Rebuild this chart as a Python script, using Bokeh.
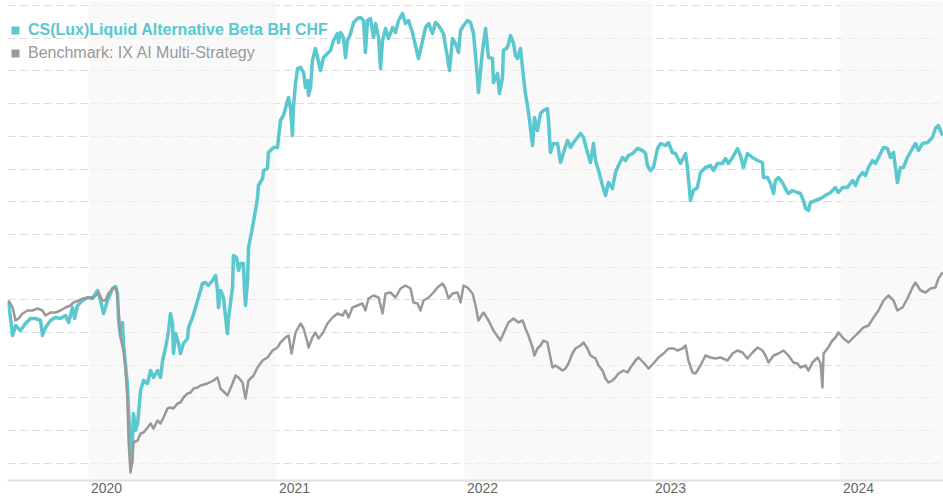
from bokeh.plotting import figure
from bokeh.models import (Range1d, FixedTicker, CustomJSTickFormatter, BoxAnnotation,
                          Legend, LegendItem, Grid)
from bokeh.embed import file_html
from bokeh.resources import INLINE

# ---------------- data (decimal years, indexed value) ----------------
fund_name = "CS(Lux)Liquid Alternative Beta BH CHF"
bench_name = "Benchmark: IX AI Multi-Strategy"

t_fund = [2019.574, 2019.585, 2019.596, 2019.612, 2019.622, 2019.638, 2019.665, 2019.691, 2019.718, 2019.745,
          2019.755, 2019.771, 2019.798, 2019.824, 2019.851, 2019.878, 2019.894, 2019.915, 2019.926, 2019.941,
          2019.968, 2019.995, 2020.021, 2020.048, 2020.064, 2020.080, 2020.101, 2020.128, 2020.144, 2020.154,
          2020.160, 2020.170, 2020.181, 2020.186, 2020.197, 2020.207, 2020.218, 2020.229, 2020.239, 2020.250,
          2020.261, 2020.266, 2020.277, 2020.293, 2020.314, 2020.330, 2020.346, 2020.367, 2020.383, 2020.394,
          2020.410, 2020.420, 2020.426, 2020.436, 2020.447, 2020.452, 2020.463, 2020.479, 2020.489, 2020.505,
          2020.527, 2020.532, 2020.553, 2020.569, 2020.585, 2020.606, 2020.622, 2020.638, 2020.660, 2020.676,
          2020.686, 2020.691, 2020.702, 2020.718, 2020.729, 2020.739, 2020.745, 2020.766, 2020.771, 2020.787,
          2020.798, 2020.809, 2020.824, 2020.830, 2020.835, 2020.846, 2020.851, 2020.872, 2020.888, 2020.899,
          2020.904, 2020.926, 2020.931, 2020.952, 2020.957, 2020.968, 2020.984, 2021.005, 2021.021, 2021.037,
          2021.059, 2021.064, 2021.074, 2021.085, 2021.090, 2021.101, 2021.112, 2021.128, 2021.144, 2021.154,
          2021.165, 2021.170, 2021.181, 2021.191, 2021.207, 2021.218, 2021.234, 2021.250, 2021.271, 2021.287,
          2021.303, 2021.324, 2021.330, 2021.340, 2021.356, 2021.367, 2021.378, 2021.394, 2021.410, 2021.431,
          2021.447, 2021.463, 2021.473, 2021.484, 2021.500, 2021.516, 2021.527, 2021.543, 2021.553, 2021.564,
          2021.580, 2021.596, 2021.617, 2021.633, 2021.649, 2021.670, 2021.686, 2021.702, 2021.723, 2021.739,
          2021.755, 2021.777, 2021.793, 2021.809, 2021.830, 2021.846, 2021.862, 2021.888, 2021.910, 2021.920,
          2021.936, 2021.952, 2021.968, 2021.979, 2021.995, 2022.016, 2022.032, 2022.048, 2022.069, 2022.074,
          2022.096, 2022.112, 2022.128, 2022.149, 2022.154, 2022.176, 2022.186, 2022.202, 2022.207, 2022.229,
          2022.245, 2022.261, 2022.271, 2022.282, 2022.298, 2022.314, 2022.324, 2022.335, 2022.346, 2022.362,
          2022.372, 2022.388, 2022.404, 2022.420, 2022.441, 2022.447, 2022.457, 2022.473, 2022.495, 2022.511,
          2022.527, 2022.548, 2022.564, 2022.580, 2022.601, 2022.617, 2022.633, 2022.654, 2022.670, 2022.686,
          2022.697, 2022.713, 2022.734, 2022.750, 2022.766, 2022.787, 2022.803, 2022.819, 2022.840, 2022.856,
          2022.872, 2022.894, 2022.920, 2022.947, 2022.963, 2022.973, 2022.989, 2023.005, 2023.027, 2023.043,
          2023.069, 2023.085, 2023.106, 2023.122, 2023.149, 2023.176, 2023.186, 2023.202, 2023.218, 2023.239,
          2023.255, 2023.282, 2023.309, 2023.324, 2023.346, 2023.372, 2023.388, 2023.404, 2023.426, 2023.452,
          2023.468, 2023.484, 2023.505, 2023.532, 2023.559, 2023.585, 2023.590, 2023.612, 2023.628, 2023.644,
          2023.654, 2023.670, 2023.691, 2023.707, 2023.723, 2023.745, 2023.771, 2023.787, 2023.803, 2023.814,
          2023.830, 2023.840, 2023.867, 2023.894, 2023.920, 2023.947, 2023.973, 2023.989, 2024.011, 2024.037,
          2024.064, 2024.080, 2024.096, 2024.117, 2024.133, 2024.149, 2024.170, 2024.186, 2024.213, 2024.229,
          2024.250, 2024.266, 2024.282, 2024.303, 2024.319, 2024.335, 2024.356, 2024.383, 2024.399, 2024.415,
          2024.436, 2024.463, 2024.489, 2024.505, 2024.521, 2024.543]
v_fund = [99.9, 98.2, 96.5, 97.5, 97.3, 97.0, 97.7, 98.2, 98.2, 98.0,
          96.5, 97.3, 98.0, 98.3, 98.2, 98.5, 97.8, 99.3, 98.2, 99.5,
          100.0, 100.3, 100.2, 101.0, 100.0, 98.7, 100.0, 101.2, 101.4, 100.7,
          98.0, 96.5, 97.8, 95.7, 93.5, 91.5, 87.0, 83.7, 88.7, 87.0,
          87.7, 88.7, 91.0, 92.0, 91.7, 93.0, 92.3, 93.0, 92.3, 94.0,
          95.3, 96.3, 97.0, 98.7, 97.7, 94.7, 96.7, 95.7, 94.7, 95.7,
          96.2, 97.3, 98.3, 99.3, 100.3, 101.7, 101.8, 101.5, 102.0, 102.5,
          101.0, 99.3, 101.0, 100.3, 98.3, 96.7, 98.3, 101.3, 104.5, 104.3,
          103.0, 103.7, 103.7, 101.0, 99.5, 102.0, 105.3, 107.3, 109.0, 110.3,
          111.5, 112.2, 113.0, 113.2, 114.8, 115.0, 115.3, 115.3, 118.0, 118.5,
          120.0, 120.3, 119.3, 116.5, 119.3, 121.7, 123.2, 123.3, 122.8, 121.3,
          122.0, 120.5, 121.3, 124.0, 125.2, 124.3, 123.0, 124.3, 124.7, 125.0,
          126.0, 126.7, 125.8, 126.8, 126.3, 124.3, 126.0, 126.7, 127.8, 128.2,
          128.3, 128.0, 124.8, 128.0, 128.2, 126.3, 127.7, 126.3, 123.2, 126.0,
          127.2, 126.2, 127.3, 126.8, 128.0, 128.7, 127.7, 128.0, 126.8, 125.5,
          124.2, 126.0, 127.3, 127.7, 126.7, 127.8, 127.5, 126.7, 124.2, 123.0,
          126.2, 125.7, 124.8, 127.0, 127.5, 128.0, 127.8, 126.7, 122.3, 120.8,
          125.0, 127.2, 124.3, 124.2, 121.8, 122.7, 120.7, 122.3, 125.0, 125.3,
          126.5, 125.7, 124.5, 124.2, 125.2, 122.3, 120.7, 119.5, 118.0, 115.5,
          118.3, 117.0, 118.7, 119.0, 119.2, 118.0, 114.8, 115.7, 115.7, 113.8,
          114.8, 116.0, 115.3, 115.8, 116.3, 116.7, 116.3, 114.8, 113.8, 115.7,
          114.0, 113.0, 111.5, 110.5, 111.8, 111.2, 112.8, 113.5, 114.3, 114.0,
          114.5, 114.7, 115.2, 115.0, 114.7, 113.5, 113.0, 113.3, 115.2, 115.7,
          115.5, 115.8, 114.8, 114.7, 113.7, 114.7, 113.3, 110.0, 111.0, 111.3,
          112.8, 113.3, 113.5, 113.0, 113.7, 113.7, 114.2, 113.7, 114.3, 115.2,
          114.5, 113.3, 114.7, 114.3, 114.0, 113.8, 112.3, 112.3, 111.7, 110.7,
          112.0, 112.3, 111.8, 111.2, 110.7, 111.0, 110.8, 110.7, 110.0, 109.2,
          109.0, 109.8, 110.0, 110.2, 110.5, 110.8, 111.3, 110.8, 111.3, 111.3,
          112.0, 111.5, 112.3, 112.8, 112.5, 113.3, 114.0, 113.7, 114.7, 115.3,
          115.2, 114.3, 114.8, 111.8, 113.3, 113.3, 114.3, 115.2, 115.7, 115.0,
          115.7, 115.8, 116.3, 117.2, 117.5, 116.5]

t_bench = [2019.574, 2019.596, 2019.612, 2019.628, 2019.649, 2019.676, 2019.702, 2019.729, 2019.755, 2019.771,
           2019.798, 2019.824, 2019.851, 2019.878, 2019.904, 2019.920, 2019.947, 2019.973, 2020.000, 2020.027,
           2020.053, 2020.074, 2020.090, 2020.106, 2020.133, 2020.149, 2020.160, 2020.170, 2020.186, 2020.197,
           2020.207, 2020.213, 2020.223, 2020.234, 2020.239, 2020.261, 2020.277, 2020.293, 2020.314, 2020.330,
           2020.346, 2020.367, 2020.383, 2020.399, 2020.420, 2020.436, 2020.452, 2020.473, 2020.489, 2020.505,
           2020.527, 2020.543, 2020.559, 2020.580, 2020.596, 2020.633, 2020.665, 2020.686, 2020.702, 2020.729,
           2020.739, 2020.766, 2020.782, 2020.798, 2020.819, 2020.835, 2020.851, 2020.878, 2020.899, 2020.926,
           2020.952, 2020.979, 2021.005, 2021.021, 2021.048, 2021.064, 2021.080, 2021.101, 2021.128, 2021.144,
           2021.165, 2021.170, 2021.191, 2021.207, 2021.223, 2021.245, 2021.271, 2021.298, 2021.324, 2021.351,
           2021.367, 2021.383, 2021.404, 2021.431, 2021.457, 2021.473, 2021.489, 2021.516, 2021.543, 2021.564,
           2021.580, 2021.606, 2021.633, 2021.660, 2021.686, 2021.713, 2021.729, 2021.750, 2021.766, 2021.782,
           2021.809, 2021.835, 2021.856, 2021.883, 2021.899, 2021.915, 2021.936, 2021.963, 2021.979, 2021.995,
           2022.016, 2022.043, 2022.059, 2022.074, 2022.101, 2022.128, 2022.154, 2022.191, 2022.207, 2022.234,
           2022.261, 2022.287, 2022.309, 2022.324, 2022.340, 2022.362, 2022.372, 2022.388, 2022.404, 2022.420,
           2022.441, 2022.457, 2022.468, 2022.484, 2022.500, 2022.521, 2022.537, 2022.553, 2022.574, 2022.590,
           2022.617, 2022.633, 2022.654, 2022.670, 2022.697, 2022.713, 2022.734, 2022.750, 2022.766, 2022.787,
           2022.803, 2022.819, 2022.846, 2022.867, 2022.883, 2022.910, 2022.926, 2022.952, 2022.979, 2023.005,
           2023.032, 2023.059, 2023.085, 2023.112, 2023.133, 2023.160, 2023.176, 2023.191, 2023.213, 2023.229,
           2023.255, 2023.282, 2023.309, 2023.335, 2023.362, 2023.399, 2023.426, 2023.452, 2023.479, 2023.505,
           2023.532, 2023.559, 2023.585, 2023.601, 2023.617, 2023.644, 2023.670, 2023.697, 2023.723, 2023.750,
           2023.771, 2023.787, 2023.814, 2023.830, 2023.851, 2023.878, 2023.894, 2023.904, 2023.910, 2023.931,
           2023.957, 2023.973, 2023.989, 2024.016, 2024.043, 2024.069, 2024.096, 2024.122, 2024.149, 2024.176,
           2024.202, 2024.229, 2024.255, 2024.282, 2024.303, 2024.330, 2024.356, 2024.383, 2024.399, 2024.426,
           2024.452, 2024.479, 2024.505, 2024.521, 2024.543]
v_bench = [100.0, 99.3, 98.0, 98.2, 98.7, 99.0, 99.0, 99.2, 99.0, 98.5,
           98.8, 98.8, 99.0, 99.3, 99.5, 99.8, 100.0, 100.2, 100.3, 100.3,
           100.8, 100.0, 100.0, 100.7, 101.3, 101.2, 99.0, 96.3, 95.0, 93.3,
           90.0, 86.0, 82.8, 84.0, 85.8, 86.0, 86.7, 86.8, 87.3, 87.7,
           87.2, 88.0, 87.7, 88.3, 89.2, 89.3, 89.2, 89.7, 89.8, 90.3,
           90.7, 90.8, 91.2, 91.3, 91.5, 91.7, 92.0, 92.3, 91.2, 90.7,
           90.5, 91.7, 92.5, 92.3, 91.8, 90.2, 92.0, 92.5, 93.3, 94.0,
           94.3, 95.0, 95.3, 95.8, 96.3, 96.5, 94.7, 96.8, 97.7, 97.2,
           95.8, 95.3, 96.3, 96.8, 96.2, 96.7, 97.7, 98.3, 98.7, 98.5,
           99.0, 98.3, 99.3, 99.5, 99.7, 99.0, 100.2, 100.5, 100.3, 98.7,
           100.7, 100.8, 100.3, 101.2, 101.5, 101.2, 99.8, 99.7, 99.0, 100.0,
           100.3, 100.8, 101.3, 101.7, 101.2, 100.2, 100.7, 100.8, 99.8, 101.5,
           101.3, 100.7, 99.5, 98.0, 98.8, 98.0, 97.0, 96.0, 96.7, 97.8,
           98.2, 97.8, 98.0, 97.2, 96.5, 95.3, 94.5, 95.2, 95.5, 96.0,
           95.8, 94.3, 93.3, 93.5, 93.3, 93.0, 93.2, 93.7, 94.7, 95.2,
           95.5, 95.8, 95.2, 94.5, 94.2, 93.5, 93.0, 92.2, 91.8, 92.0,
           92.3, 92.7, 93.0, 92.8, 93.3, 94.0, 94.3, 93.8, 93.2, 93.7,
           94.3, 94.7, 95.2, 95.2, 95.0, 95.2, 95.5, 94.0, 92.8, 92.7,
           93.5, 94.5, 94.3, 94.2, 94.3, 94.0, 94.7, 95.0, 94.8, 94.2,
           94.8, 95.3, 95.0, 94.5, 93.8, 94.5, 94.7, 95.0, 94.5, 93.8,
           93.7, 93.3, 93.5, 93.0, 93.8, 94.3, 93.7, 91.3, 94.7, 95.2,
           96.0, 96.3, 96.8, 96.2, 95.8, 96.3, 96.8, 97.3, 97.5, 98.3,
           99.0, 100.0, 100.5, 100.0, 99.0, 99.3, 100.2, 101.3, 101.8, 101.0,
           100.8, 101.2, 101.3, 102.2, 102.8]

years = [2020, 2021, 2022, 2023, 2024]
shaded_years = [2020, 2022, 2024]

# ---------------- styling ----------------
TEAL = "#5bc7cf"
GRAY = "#999999"
FONT = "Liberation Sans"

LEFT_PAD = 7
FRAME_W, FRAME_H = 943 - LEFT_PAD, 480

p = figure(frame_width=FRAME_W, frame_height=FRAME_H, output_backend="svg",
           toolbar_location=None, y_axis_location=None,
           x_range=Range1d(2019.569, 2024.548), y_range=Range1d(82.0, 130.0),
           min_border=0, min_border_left=LEFT_PAD, outline_line_color=None,
           background_fill_color="white", border_fill_color="white")

p.xgrid.visible = False
p.ygrid.visible = False

grid_ticks = [83.72 + 3.27 * i for i in range(15)]
hgrid = Grid(dimension=1, ticker=FixedTicker(ticks=grid_ticks),
             grid_line_color="#dcdcdc", grid_line_dash="8 4", grid_line_width=1,
             level="underlay")
p.add_layout(hgrid)

for yr in shaded_years:
    p.add_layout(BoxAnnotation(left=yr, right=yr + 1, fill_color="#f5f5f5", fill_alpha=0.62,
                               line_color=None, level="underlay"))

ax = p.xaxis[0]
ax.ticker = FixedTicker(ticks=[y + 0.096 for y in years])
ax.formatter = CustomJSTickFormatter(code="return Math.floor(tick).toString();")
ax.axis_line_color = "#e0e0e0"
ax.axis_line_width = 2
ax.major_tick_line_color = None
ax.minor_tick_line_color = None
ax.major_tick_out = 0
ax.major_tick_in = 0
ax.major_label_standoff = 2
ax.major_label_text_font = FONT
ax.major_label_text_font_size = "14px"
ax.major_label_text_color = "#666666"

p.line(t_fund, v_fund, line_color=TEAL, line_width=3.5, line_join="round")
p.line(t_bench, v_bench, line_color=GRAY, line_width=2.5, line_join="round")

# legend swatches (zero-size on the chart, drawn only by the legend)
sw1 = p.scatter([t_fund[0]], [v_fund[0]], marker="square", size=0, fill_color=TEAL, line_color=None)
sw2 = p.scatter([t_bench[0]], [v_bench[0]], marker="square", size=0, fill_color=GRAY, line_color=None)

def make_legend(label, rend, color, style, bottom):
    return Legend(items=[LegendItem(label=label, renderers=[rend])],
                  location=(-2, bottom), glyph_width=20, glyph_height=20,
                  label_height=20, label_standoff=3, padding=0, margin=0, spacing=0,
                  border_line_color=None, background_fill_alpha=0,
                  label_text_font=FONT, label_text_font_size="16px",
                  label_text_font_style=style, label_text_color=color)

p.add_layout(make_legend(fund_name, sw1, TEAL, "bold", FRAME_H - 40))
p.add_layout(make_legend(bench_name, sw2, GRAY, "normal", FRAME_H - 63))

open("out.html", "w").write(file_html(p, INLINE))
